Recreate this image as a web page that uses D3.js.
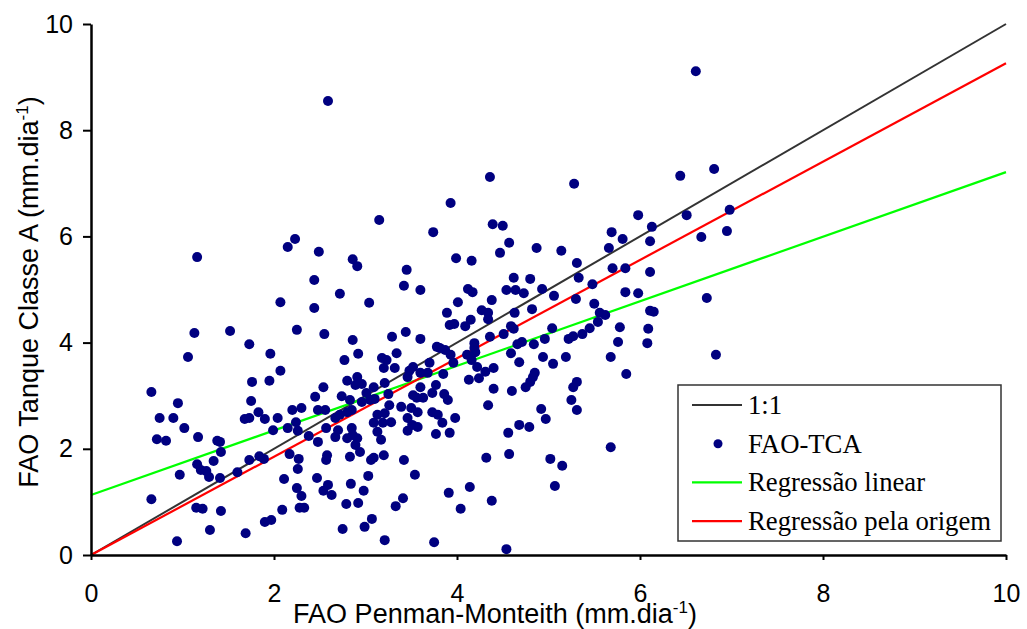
<!DOCTYPE html>
<html>
<head>
<meta charset="utf-8">
<script src="https://cdn.jsdelivr.net/npm/d3@7"></script>
<style>
  body { margin: 0; background: #fff; }
  svg { display: block; }
  .axis path, .axis line { stroke: #000; }
  .axis text { font-family: "Liberation Sans", Arial, sans-serif; font-size: 25px; fill: #000; }
  .title { font-family: "Liberation Sans", Arial, sans-serif; font-size: 27px; fill: #000; }
  .legend text { font-family: "Liberation Serif", "Times New Roman", serif; font-size: 26.7px; fill: #000; }
</style>
</head>
<body>
<div id="chart"></div>
<script>
// FAO Penman-Monteith (x) vs FAO Tanque Classe A (y), mm/dia
var fao_pm = [
  2.59, 3.15, 6.61, 3.93, 4.36, 5.28, 6.44, 6.81, 5.98, 6.51, 6.98, 4.39, 4.50, 6.13, 5.69, 6.95,
  1.16, 2.15, 2.07, 1.13, 1.52, 1.73, 1.06, 1.96, 2.07, 1.76, 1.95, 0.66, 0.95, 1.75, 0.75, 0.90,
  1.83, 1.68, 1.73, 1.90, 2.04, 1.02, 1.99, 0.72, 0.82, 1.17, 1.38, 1.41, 1.42, 1.34, 1.73, 1.84,
  1.89, 1.16, 1.20, 1.26, 1.29, 1.41, 1.60, 0.97, 2.11, 0.66, 1.15, 1.22, 1.42, 2.09, 1.90, 1.97,
  1.30, 1.69, 0.94, 3.74, 2.23, 2.49, 2.86, 2.91, 3.45, 2.44, 3.42, 3.60, 2.72, 3.04, 2.44, 2.25,
  2.55, 2.86, 3.29, 3.44, 3.60, 3.78, 2.92, 3.34, 2.77, 3.18, 3.23, 3.20, 3.32, 3.70, 3.52, 3.48,
  3.46, 3.60, 3.68, 2.91, 2.80, 3.77, 2.54, 2.89, 2.96, 3.09, 3.21, 3.60, 2.45, 2.74, 3.01, 3.25,
  3.52, 3.73, 2.83, 3.10, 3.56, 3.63, 2.20, 2.30, 2.48, 2.56, 2.67, 2.72, 2.85, 2.80, 2.96, 3.05,
  3.26, 3.39, 3.50, 3.57, 3.73, 3.79, 3.13, 3.21, 3.09, 3.19, 3.28, 3.46, 3.51, 3.46, 3.57, 3.77,
  2.24, 2.15, 2.26, 2.57, 2.67, 2.70, 2.85, 2.86, 2.80, 2.91, 2.38, 2.48, 2.89, 3.13, 3.17, 2.17,
  2.58, 2.57, 2.83, 2.94, 3.06, 3.09, 3.20, 2.27, 3.42, 2.26, 2.47, 3.03, 3.54, 2.25, 2.30, 2.59,
  2.54, 2.63, 2.84, 2.98, 2.28, 2.33, 2.79, 2.92, 3.41, 3.33, 3.07, 2.99, 2.75, 3.21, 3.75,
  4.57, 4.47, 4.87, 5.14, 3.99, 4.16, 5.31, 5.33, 5.48, 4.62, 4.80, 4.12, 4.17, 4.54, 4.64, 4.73,
  4.93, 5.06, 5.30, 5.50, 4.01, 4.38, 3.89, 4.27, 4.34, 4.34, 4.63, 4.82, 3.92, 3.97, 4.09, 4.15,
  4.59, 4.62, 4.51, 4.36, 5.04, 5.45, 5.22, 5.27, 5.37, 4.96, 4.66, 4.71, 4.84, 4.19, 4.19, 3.81,
  3.87, 3.93, 3.96, 4.11, 4.20, 4.16, 4.22, 4.59, 4.68, 4.94, 5.19, 5.05, 3.85, 4.31, 4.40, 4.24,
  4.13, 4.85, 4.83, 4.80, 4.75, 5.31, 5.27, 4.40, 4.60, 3.86, 3.90, 4.34, 5.25, 5.31, 4.92, 4.97,
  3.98, 3.84, 3.92, 4.68, 4.79, 4.56, 4.32, 4.57, 5.02, 5.15, 5.07, 4.14, 3.91, 4.38, 4.04, 4.54,
  5.81, 6.11, 5.66, 6.67, 5.70, 5.84, 6.11, 5.84, 5.98, 6.73, 5.56, 5.62, 5.54, 6.11, 6.15, 5.78,
  6.09, 5.76, 6.08, 5.68, 6.83, 5.85, 5.68
];
var fao_tca = [
  8.55, 6.31, 9.11, 6.63, 7.12, 6.99, 7.14, 7.27, 6.40, 6.40, 6.50, 6.23, 6.20, 6.18, 6.08, 6.10,
  5.61, 5.80, 4.76, 4.18, 4.22, 3.97, 3.73, 3.79, 3.47, 3.26, 3.28, 3.07, 2.86, 2.90, 2.58, 2.58,
  2.69, 2.56, 2.58, 2.56, 2.58, 2.39, 2.35, 2.18, 2.15, 2.22, 2.15, 2.13, 1.94, 1.77, 1.79, 1.86,
  1.81, 1.71, 1.60, 1.58, 1.47, 1.45, 1.56, 1.51, 1.43, 1.05, 0.89, 0.87, 0.83, 0.85, 0.62, 0.66,
  0.47, 0.41, 0.26, 6.08, 5.95, 5.71, 5.57, 5.44, 5.37, 5.18, 5.07, 4.99, 4.92, 4.75, 4.65, 4.24,
  4.16, 4.05, 4.11, 4.20, 4.07, 3.92, 3.79, 3.80, 3.67, 3.71, 3.67, 3.52, 3.52, 3.62, 3.54, 3.47,
  3.35, 3.43, 3.43, 3.35, 3.28, 3.20, 3.16, 3.20, 3.22, 3.16, 3.24, 3.16, 2.98, 2.99, 3.05, 3.03,
  3.01, 3.05, 2.92, 2.94, 2.96, 2.96, 2.73, 2.77, 2.73, 2.73, 2.58, 2.64, 2.73, 2.69, 2.88, 2.92,
  2.82, 2.79, 2.77, 2.69, 2.69, 2.64, 2.64, 2.67, 2.49, 2.49, 2.50, 2.58, 2.45, 2.34, 2.41, 2.28,
  2.50, 2.39, 2.34, 2.39, 2.22, 2.35, 2.39, 2.26, 2.20, 2.20, 2.24, 2.13, 2.07, 2.32, 2.17, 1.90,
  1.88, 1.79, 1.85, 1.94, 1.79, 1.83, 1.88, 1.81, 1.79, 1.62, 1.45, 1.49, 1.51, 1.26, 1.11, 1.32,
  1.21, 1.13, 1.34, 1.21, 0.89, 0.89, 0.96, 0.98, 1.07, 0.92, 0.68, 0.53, 0.49, 0.28, 0.24,
  5.88, 5.69, 5.78, 5.73, 5.59, 5.54, 5.50, 5.22, 5.10, 5.22, 5.20, 5.01, 4.95, 4.99, 4.99, 4.93,
  5.01, 4.88, 4.82, 4.73, 4.76, 4.80, 4.56, 4.61, 4.56, 4.44, 4.56, 4.63, 4.33, 4.35, 4.31, 4.43,
  4.31, 4.26, 4.16, 4.11, 4.27, 4.27, 4.07, 4.12, 4.16, 4.07, 3.97, 4.01, 3.97, 3.99, 3.90, 3.90,
  3.86, 3.77, 3.62, 3.77, 3.82, 3.67, 3.54, 3.80, 3.63, 3.73, 3.73, 3.60, 3.41, 3.45, 3.52, 3.33,
  3.30, 3.43, 3.35, 3.26, 3.16, 3.26, 3.16, 3.13, 3.09, 3.03, 2.92, 2.82, 2.92, 2.73, 2.75, 2.56,
  2.58, 2.49, 2.30, 2.45, 2.41, 2.30, 1.83, 1.90, 1.81, 1.68, 1.30, 1.28, 1.17, 1.02, 0.87, 0.11,
  5.95, 5.91, 5.78, 5.99, 5.40, 5.40, 5.33, 4.95, 4.93, 4.84, 4.56, 4.52, 4.39, 4.60, 4.58, 4.29,
  4.26, 4.01, 3.99, 3.73, 3.77, 3.41, 2.03
];

var ticks = [0, 2, 4, 6, 8, 10];
var lineEnds = [0, 10];
// regression lines: [intercept, slope]
var linearFit = [1.13, 0.608];
var originFit = [0, 0.926];
var legendLabels = ["1:1", "FAO-TCA", "Regressão linear", "Regressão pela origem"];

var width = 1027, height = 629;
var svg = d3.select("#chart").append("svg")
  .attr("width", width)
  .attr("height", height);

var x = d3.scaleLinear().domain([0, 10]).range([91, 1006]);
var y = d3.scaleLinear().domain([0, 10]).range([555, 24]);

var points = fao_pm.map(function (v, i) { return { x: v, y: fao_tca[i] }; });

// lines
var line = d3.line().x(d => x(d[0])).y(d => y(d[1]));
svg.append("path")
  .attr("d", line(lineEnds.map(v => [v, v])))
  .attr("stroke", "#333").attr("stroke-width", 2).attr("fill", "none");
svg.append("path")
  .attr("d", line(lineEnds.map(v => [v, linearFit[0] + linearFit[1] * v])))
  .attr("stroke", "#00ff00").attr("stroke-width", 2.2).attr("fill", "none");
svg.append("path")
  .attr("d", line(lineEnds.map(v => [v, originFit[0] + originFit[1] * v])))
  .attr("stroke", "#ff0000").attr("stroke-width", 2.2).attr("fill", "none");

// points
svg.append("g")
  .selectAll("circle")
  .data(points)
  .join("circle")
  .attr("cx", d => x(d.x))
  .attr("cy", d => y(d.y))
  .attr("r", 5)
  .attr("fill", "#000080");

// axes
var yAxis = svg.append("g")
  .attr("class", "axis")
  .attr("transform", "translate(91,0)")
  .call(d3.axisLeft(y).tickValues(ticks).tickSize(8).tickSizeOuter(0).tickPadding(10));
yAxis.select(".domain").attr("stroke-width", 2.5);
yAxis.selectAll(".tick line").attr("stroke-width", 2);

var xAxis = svg.append("g")
  .attr("class", "axis")
  .attr("transform", "translate(0,555)")
  .call(d3.axisBottom(x).tickValues(ticks).tickSize(5).tickSizeOuter(0).tickPadding(24));
xAxis.select(".domain").attr("stroke-width", 2.5);
xAxis.selectAll(".tick line").attr("stroke-width", 2);

// axis titles
var xt = svg.append("text").attr("class", "title")
  .attr("x", 495).attr("y", 623).attr("text-anchor", "middle");
xt.append("tspan").text("FAO Penman-Monteith (mm.dia");
xt.append("tspan").attr("dy", -10).attr("font-size", 17).text("-1");
xt.append("tspan").attr("dy", 10).text(")");

var yt = svg.append("text").attr("class", "title")
  .attr("transform", "translate(38,292) rotate(-90)")
  .attr("text-anchor", "middle");
yt.append("tspan").text("FAO Tanque Classe A (mm.dia");
yt.append("tspan").attr("dy", -10).attr("font-size", 17).text("-1");
yt.append("tspan").attr("dy", 10).text(")");

// legend
var legend = svg.append("g").attr("class", "legend");
legend.append("rect")
  .attr("x", 678).attr("y", 385).attr("width", 323).attr("height", 156)
  .attr("fill", "#fff").attr("stroke", "#333").attr("stroke-width", 1.5);

var legendColors = ["#333", "#000080", "#00ff00", "#ff0000"];
legendLabels.forEach(function (lab, i) {
  var ly = 405 + i * 38.7;
  if (i === 1) {
    legend.append("circle").attr("cx", 718).attr("cy", ly).attr("r", 4.5).attr("fill", legendColors[i]);
  } else {
    legend.append("line")
      .attr("x1", 692).attr("x2", 742).attr("y1", ly).attr("y2", ly)
      .attr("stroke", legendColors[i]).attr("stroke-width", i === 0 ? 2 : 2.2);
  }
  legend.append("text").attr("x", 748).attr("y", ly + 9).text(lab);
});
</script>
</body>
</html>
